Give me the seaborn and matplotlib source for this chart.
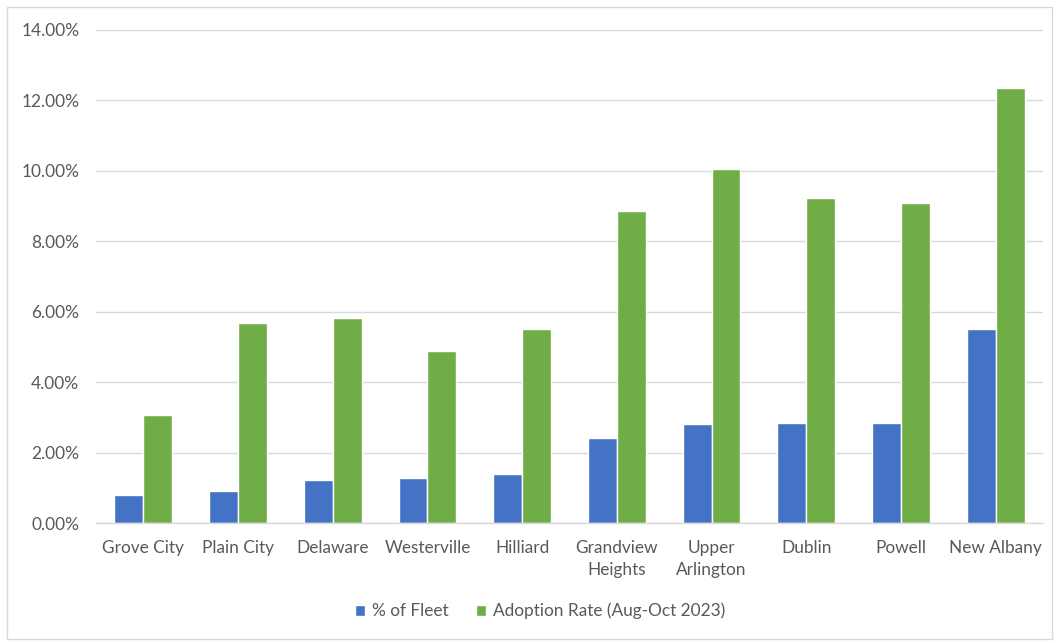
import matplotlib
matplotlib.use("Agg")
import matplotlib.pyplot as plt
from matplotlib.patches import Rectangle
from matplotlib.ticker import FuncFormatter, MultipleLocator
import pandas as pd
import seaborn as sns

cities = ["Grove City", "Plain City", "Delaware", "Westerville", "Hilliard",
          "Grandview\nHeights", "Upper\nArlington", "Dublin", "Powell", "New Albany"]
pct_fleet = [0.79, 0.90, 1.23, 1.27, 1.38, 2.40, 2.80, 2.84, 2.84, 5.52]
adoption_rate = [3.08, 5.69, 5.83, 4.89, 5.50, 8.85, 10.05, 9.22, 9.08, 12.34]
series_names = ["% of Fleet", "Adoption Rate (Aug-Oct 2023)"]
colors = ["#4472C4", "#70AD47"]

df = pd.DataFrame({"City": cities, series_names[0]: pct_fleet, series_names[1]: adoption_rate})
long_df = df.melt(id_vars="City", var_name="Series", value_name="Value")

sns.set_theme(style="white")
plt.rcParams["font.family"] = ["Lato", "DejaVu Sans"]
text_color = "#595959"
fs = 12.4

fig = plt.figure(figsize=(10.55, 6.41), dpi=100)
ax = fig.add_axes([96 / 1055, 1 - 523 / 641, (1043 - 96) / 1055, (523 - 30) / 641])

sns.barplot(data=long_df, x="City", y="Value", hue="Series", hue_order=series_names,
            palette=colors, width=0.61, gap=0, saturation=1, ax=ax, legend=True)

ax.set_ylim(0, 14)
ax.set_xlim(-0.5, len(cities) - 0.5)
ax.yaxis.set_major_locator(MultipleLocator(2))
ax.yaxis.set_major_formatter(FuncFormatter(lambda v, _: f"{v:.2f}%"))
ax.grid(axis="y", color="#d9d9d9", linewidth=1)
ax.set_axisbelow(True)
for side in ["top", "right", "left"]:
    ax.spines[side].set_visible(False)
ax.spines["bottom"].set_color("#d9d9d9")
ax.spines["bottom"].set_linewidth(1)
ax.set_xlabel("")
ax.set_ylabel("")
ax.tick_params(axis="both", length=0, labelsize=fs, labelcolor=text_color)
ax.tick_params(axis="y", pad=12)
ax.tick_params(axis="x", pad=12.5)
for lbl in ax.get_xticklabels():
    lbl.set_linespacing(1.45)
    lbl.set_verticalalignment("top")

handles, labels = ax.get_legend_handles_labels()
ax.get_legend().remove()
fig.legend(handles, labels, loc="center", bbox_to_anchor=(540 / 1055, 1 - 611 / 641),
           ncol=2, frameon=False, fontsize=fs, labelcolor=text_color,
           handlelength=0.6, handleheight=0.6, handletextpad=0.4, columnspacing=1.6)

fig.patches.append(Rectangle((7 / 1055, 2 / 641), 1045 / 1055, 632 / 641,
                             transform=fig.transFigure, fill=False,
                             edgecolor="#d9d9d9", linewidth=1))

fig.savefig("out.png", dpi=100, facecolor="white")
